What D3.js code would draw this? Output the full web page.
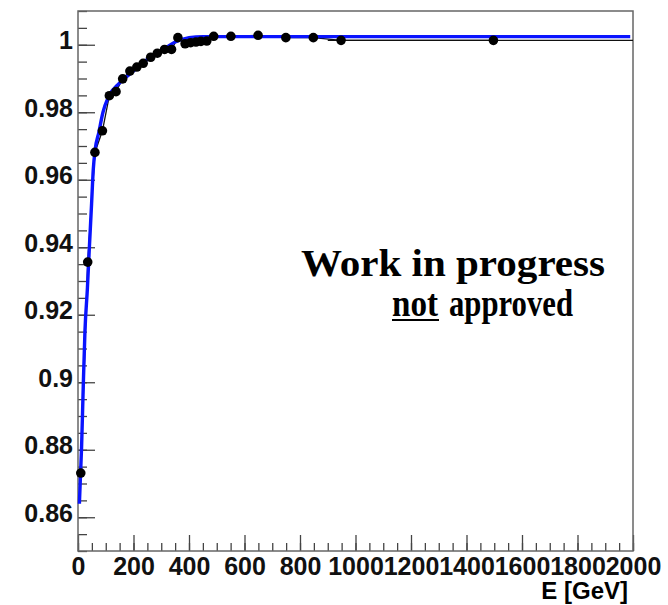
<!DOCTYPE html>
<html lang="en">
<head>
  <meta charset="UTF-8">
  <title>Response vs E</title>
  <style>
    body { margin: 0; background: #fff; }
    .axis text { font-family: "Liberation Sans", Arial, sans-serif; font-weight: bold; font-size: 25px; fill: #111; }
    .axis line { stroke: #444; stroke-width: 1.3px; }
    .axis path { stroke: none; }
  </style>
  <script src="https://cdn.jsdelivr.net/npm/d3@7"></script>
</head>
<body>
<div class="main"></div>
<script>

// measured points
var energy = [10, 35, 61, 88, 113, 137, 161, 187, 212, 235, 262, 286, 312, 337, 360, 386, 406, 425, 443, 464, 489, 551, 649, 749, 848, 948, 1497];
var response = [0.8731, 0.9356, 0.9681, 0.9745, 0.9849, 0.9861, 0.9899, 0.9922, 0.9934, 0.9945, 0.9963, 0.9975, 0.9986, 0.9986, 1.0021, 1.0003, 1.0006, 1.0008, 1.0010, 1.0011, 1.0025, 1.0025, 1.0028, 1.0021, 1.0021, 1.0013, 1.0013];

// fitted curve (blue)
var fitE = [5, 13, 19, 25, 34, 41, 49, 55, 62, 75, 90, 110, 150, 200, 250, 300, 350, 400, 450, 500, 1000, 1990];
var fitV = [0.864, 0.881, 0.899, 0.915, 0.928, 0.940, 0.953, 0.963, 0.969, 0.974, 0.980, 0.9846, 0.9887, 0.9922, 0.9957, 0.9982, 1.0008, 1.0021, 1.0024, 1.0024, 1.0024, 1.0024];

// black plateau line
var refE = [900, 2000];
var refV = [1.0013, 1.0013];

var xTicks = [0, 200, 400, 600, 800, 1000, 1200, 1400, 1600, 1800, 2000];
var yTicks = [0.86, 0.88, 0.9, 0.92, 0.94, 0.96, 0.98, 1];

var width = 668, height = 605;
var margin = {top: 11, right: 35, bottom: 54, left: 78};

var svg = d3.select(".main").append("svg")
    .attr("width", width)
    .attr("height", height);

var x = d3.scaleLinear().domain([0, 2000]).range([margin.left, width - margin.right]);
var y = d3.scaleLinear().domain([0.85, 1.01]).range([height - margin.bottom, margin.top]);

// minor ticks
svg.append("g").attr("class", "axis")
    .attr("transform", "translate(0," + y.range()[0] + ")")
    .call(d3.axisBottom(x).tickValues(d3.range(0, 2001, 50)).tickSize(-8).tickFormat(""));
svg.append("g").attr("class", "axis")
    .attr("transform", "translate(" + x.range()[0] + ",0)")
    .call(d3.axisLeft(y).tickValues(d3.range(0.85, 1.0101, 0.005)).tickSize(-9).tickFormat(""));

// major ticks + labels
svg.append("g").attr("class", "axis")
    .attr("transform", "translate(0," + y.range()[0] + ")")
    .call(d3.axisBottom(x).tickValues(xTicks).tickSize(-16).tickPadding(6).tickFormat(d3.format("d")))
    .selectAll("text").attr("y", 6).attr("dy", "0.71em");

svg.append("g").attr("class", "axis")
    .attr("transform", "translate(" + x.range()[0] + ",0)")
    .call(d3.axisLeft(y).tickValues(yTicks).tickSize(-17).tickPadding(5).tickFormat(function(d) { return d3.format("")(+d.toFixed(2)); }))
    .selectAll("text").attr("x", -5).attr("dy", "0.16em");

// frame
svg.append("rect")
    .attr("x", x.range()[0])
    .attr("y", y.range()[1])
    .attr("width", x.range()[1] - x.range()[0])
    .attr("height", y.range()[0] - y.range()[1])
    .attr("fill", "none")
    .attr("stroke", "#666")
    .attr("stroke-width", 1.5);

var line = d3.line()
    .x(function(d) { return x(d[0]); })
    .y(function(d) { return y(d[1]); });

var pts = energy.map(function(e, i) { return [e, response[i]]; });

svg.append("path")
    .datum(refE.map(function(e, i) { return [e, refV[i]]; }))
    .attr("d", line)
    .attr("fill", "none")
    .attr("stroke", "#111")
    .attr("stroke-width", 1.3);

svg.append("path")
    .datum(pts)
    .attr("d", line)
    .attr("fill", "none")
    .attr("stroke", "#111")
    .attr("stroke-width", 1.3);

svg.append("path")
    .datum(fitE.map(function(e, i) { return [e, fitV[i]]; }))
    .attr("d", line.curve(d3.curveMonotoneX))
    .attr("fill", "none")
    .attr("stroke", "#0a14ff")
    .attr("stroke-width", 3.4);

svg.selectAll("circle")
    .data(pts)
  .enter().append("circle")
    .attr("cx", function(d) { return x(d[0]); })
    .attr("cy", function(d) { return y(d[1]); })
    .attr("r", 4.8)
    .attr("fill", "#000");

// axis title
svg.append("text")
    .attr("x", 628)
    .attr("y", 599)
    .attr("text-anchor", "end")
    .style("font-family", "'Liberation Sans', Arial, sans-serif")
    .style("font-weight", "bold")
    .style("font-size", "24px")
    .text("E [GeV]");

// stamp
var serif = "'Liberation Serif', 'Times New Roman', serif";
function stamp(txt, x0, y0, len) {
  return svg.append("text")
      .attr("x", x0)
      .attr("y", y0)
      .attr("textLength", len)
      .attr("lengthAdjust", "spacingAndGlyphs")
      .style("font-family", serif)
      .style("font-weight", "bold")
      .style("font-size", "37px")
      .text(txt);
}
stamp("Work in progress", 301, 276, 304);
stamp("not", 392, 316, 46);
stamp("approved", 449, 316, 124);
svg.append("line")
    .attr("x1", 392).attr("x2", 439)
    .attr("y1", 320).attr("y2", 320)
    .attr("stroke", "#000")
    .attr("stroke-width", 2.2);

</script>
</body>
</html>
